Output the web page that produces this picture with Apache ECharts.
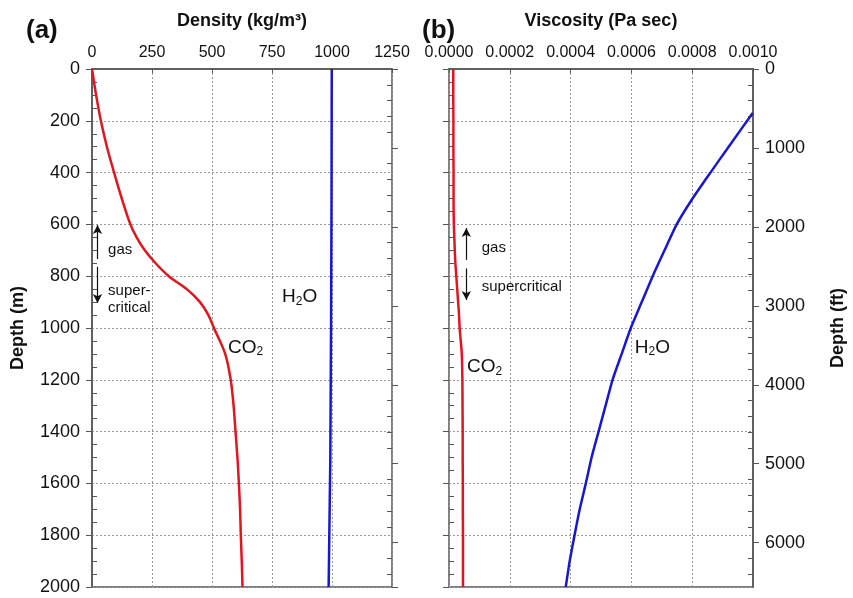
<!DOCTYPE html>
<html>
<head>
<meta charset="utf-8">
<script src="https://cdn.jsdelivr.net/npm/echarts@6/dist/echarts.min.js"></script>
<style>
html,body{margin:0;padding:0;background:#fff;}
#main{width:853px;height:598px;}
</style>
</head>
<body>
<div id="main"></div>
<script>
// depth (m) for the CO2 curves
var depthCO2 = [0,100,200,300,400,500,600,650,700,750,800,850,900,950,1000,1100,1200,1300,1400,1500,1600,1700,1800,1900,2000];
var co2Density = [0,17,37,62,92,124,160,186,220,265,320,395,450,485,508,555,578,590,598,606,612,617,620,624,627];
var co2Viscosity = [1.4e-5,1.4e-5,1.45e-5,1.45e-5,1.5e-5,1.5e-5,1.6e-5,1.75e-5,1.9e-5,2.1e-5,2.4e-5,2.7e-5,3.0e-5,3.3e-5,3.5e-5,4.2e-5,4.4e-5,4.45e-5,4.5e-5,4.5e-5,4.55e-5,4.55e-5,4.6e-5,4.6e-5,4.6e-5];

var depthH2ODensity = [0,500,1000,1500,2000];
var h2oDensity = [999,998,996,993,986];

var depthH2OVisc = [170,300,400,506,600,700,800,900,1000,1100,1200,1300,1400,1500,1600,1700,1800,1900,2000];
var h2oViscosity = [0.000999,0.00092,0.00086,0.000798,0.000749,0.000709,0.00067,0.000634,0.000598,0.000568,0.000538,0.000515,0.000492,0.000469,0.00045,0.00043,0.000413,0.000397,0.000384];

var M_TO_FT = 3.28084;
var depthMax = 2000;

function pairs(xs,ys){
	var out=[];
	for(var i=0;i<xs.length;i++){ out.push([xs[i],ys[i]]); }
	return out;
}

var FONT = 'Liberation Sans, Arial, sans-serif';
var axisColor = '#555';
var gridLine = {show:true,lineStyle:{type:[2,2],color:'#999',width:1}};
var plain = function(v){ return String(v); };

function depthAxis(gridIndex,opts){
	var base = {
		type:'value', gridIndex:gridIndex, inverse:true, min:0, max:depthMax, interval:200,
		axisLine:{show:false}, axisLabel:{show:false}, splitLine:{show:false},
		axisTick:{show:false}, minorTick:{show:false}
	};
	for(var k in opts){ base[k]=opts[k]; }
	return base;
}
function ftAxis(gridIndex,opts){
	var base = {
		type:'value', gridIndex:gridIndex, inverse:true, min:0, max:depthMax*M_TO_FT, interval:1000,
		position:'right',
		axisLine:{show:false}, axisLabel:{show:false}, splitLine:{show:false},
		axisTick:{show:false}, minorTick:{show:false}
	};
	for(var k in opts){ base[k]=opts[k]; }
	return base;
}

var rich = {
	base:{fontFamily:FONT,fontSize:19,color:'#111'},
	sub:{fontFamily:FONT,fontSize:12,color:'#111',verticalAlign:'bottom',padding:[9,0,0,0]}
};
var hidden = {color:'rgba(0,0,0,0)'};
function note(coord,text,pos){
	return {coord:coord,symbol:'circle',symbolSize:1,itemStyle:hidden,
		label:{show:true,position:pos||'right',distance:0,formatter:text,fontFamily:FONT,fontSize:15,lineHeight:17,color:'#111'}};
}
function chem(coord,text){
	return {coord:coord,symbol:'circle',symbolSize:1,itemStyle:hidden,
		label:{show:true,position:'inside',formatter:text,rich:rich}};
}
var arrowLine = {silent:true,symbol:['none','arrow'],symbolSize:[7,9],label:{show:false},
	lineStyle:{color:'#111',width:1.2,type:'solid'}};

var option = {
	animation:false,
	backgroundColor:'#fff',
	title:[
		{text:'(a)',left:21,top:13,textStyle:{fontFamily:FONT,fontSize:26,fontWeight:'bold',color:'#111'}},
		{text:'(b)',left:417,top:13,textStyle:{fontFamily:FONT,fontSize:26,fontWeight:'bold',color:'#111'}}
	],
	grid:[
		{left:92,top:69,width:300,height:518,show:true,borderColor:axisColor,borderWidth:1.5},
		{left:449,top:69,width:304,height:518,show:true,borderColor:axisColor,borderWidth:1.5}
	],
	xAxis:[
		{type:'value',gridIndex:0,position:'top',min:0,max:1250,interval:250,
			name:'Density (kg/m³)',nameLocation:'middle',nameGap:39,
			nameTextStyle:{fontFamily:FONT,fontSize:18,fontWeight:'bold',color:'#111'},
			axisLine:{show:true,lineStyle:{color:axisColor,width:1.5}},
			axisTick:{show:true,inside:true,length:4,lineStyle:{color:axisColor}},
			axisLabel:{fontFamily:FONT,fontSize:16,color:'#111',margin:8,formatter:plain},
			splitLine:gridLine},
		{type:'value',gridIndex:1,position:'top',min:0,max:0.001,interval:0.0002,
			name:'Viscosity (Pa sec)',nameLocation:'middle',nameGap:39,
			nameTextStyle:{fontFamily:FONT,fontSize:18,fontWeight:'bold',color:'#111'},
			axisLine:{show:true,lineStyle:{color:axisColor,width:1.5}},
			axisTick:{show:true,inside:true,length:4,lineStyle:{color:axisColor}},
			axisLabel:{fontFamily:FONT,fontSize:16,color:'#111',margin:8,formatter:function(v){return v.toFixed(4);}},
			splitLine:gridLine}
	],
	yAxis:[
		// panel (a) left: labelled metres
		depthAxis(0,{position:'left',
			name:'Depth (m)',nameLocation:'middle',nameGap:65,nameRotate:90,
			nameTextStyle:{fontFamily:FONT,fontSize:18,fontWeight:'bold',color:'#111'},
			axisLine:{show:true,lineStyle:{color:axisColor,width:1.5}},
			axisTick:{show:true,length:6,lineStyle:{color:axisColor}},
			axisLabel:{show:true,fontFamily:FONT,fontSize:18,color:'#111',margin:12,formatter:plain},
			splitLine:gridLine}),
		depthAxis(0,{position:'left',minorTick:{show:true,splitNumber:4,length:5,lineStyle:{color:axisColor}},
			axisTick:{show:false,inside:true}}),
		ftAxis(0,{axisTick:{show:true,length:6,lineStyle:{color:axisColor}}}),
		ftAxis(0,{minorTick:{show:true,splitNumber:5,length:5,lineStyle:{color:axisColor}},axisTick:{show:false,inside:true}}),
		// panel (b)
		depthAxis(1,{position:'left',
			axisTick:{show:true,length:6,lineStyle:{color:axisColor}},
			splitLine:gridLine}),
		depthAxis(1,{position:'left',minorTick:{show:true,splitNumber:4,length:5,lineStyle:{color:axisColor}},
			axisTick:{show:false,inside:true}}),
		ftAxis(1,{
			name:'Depth (ft)',nameLocation:'middle',nameGap:76,nameRotate:90,
			nameTextStyle:{fontFamily:FONT,fontSize:18,fontWeight:'bold',color:'#111'},
			axisLine:{show:true,lineStyle:{color:axisColor,width:1.5}},
			axisTick:{show:true,length:6,lineStyle:{color:axisColor}},
			axisLabel:{show:true,fontFamily:FONT,fontSize:18,color:'#111',margin:12,showMaxLabel:false,formatter:plain}}),
		ftAxis(1,{minorTick:{show:true,splitNumber:5,length:5,lineStyle:{color:axisColor}},axisTick:{show:false,inside:true}})
	],
	series:[
		{type:'line',name:'CO2 density',xAxisIndex:0,yAxisIndex:0,data:pairs(co2Density,depthCO2),
			showSymbol:false,smooth:0.3,lineStyle:{color:'#e3141b',width:2.5},
			markPoint:{silent:true,data:[
				chem([640,1075],'{base|CO}{sub|2}'),
				note([65,699],'gas'),
				note([65,888],'super-\ncritical')
			]},
			markLine:Object.assign({data:[
				[{coord:[23,734]},{coord:[23,602]}],
				[{coord:[23,764]},{coord:[23,903]}]
			]},arrowLine)
		},
		{type:'line',name:'H2O density',xAxisIndex:0,yAxisIndex:0,data:pairs(h2oDensity,depthH2ODensity),
			showSymbol:false,lineStyle:{color:'#1616d8',width:2.5},
			markPoint:{silent:true,data:[
				chem([865,880],'{base|H}{sub|2}{base|O}')
			]}
		},
		{type:'line',name:'CO2 viscosity',xAxisIndex:1,yAxisIndex:4,data:pairs(co2Viscosity,depthCO2),
			showSymbol:false,smooth:0.3,lineStyle:{color:'#e3141b',width:2.5},
			markPoint:{silent:true,data:[
				chem([0.000117,1150],'{base|CO}{sub|2}'),
				note([0.000106,691],'gas'),
				note([0.000106,842],'supercritical')
			]},
			markLine:Object.assign({data:[
				[{coord:[0.000057,737]},{coord:[0.000057,614]}],
				[{coord:[0.000057,770]},{coord:[0.000057,892]}]
			]},arrowLine)
		},
		{type:'line',name:'H2O viscosity',xAxisIndex:1,yAxisIndex:4,data:pairs(h2oViscosity,depthH2OVisc),
			showSymbol:false,smooth:0.2,lineStyle:{color:'#1616d8',width:2.5},
			markPoint:{silent:true,data:[
				chem([0.000669,1075],'{base|H}{sub|2}{base|O}')
			]}
		}
	]
};

var myChart = echarts.init(document.getElementById('main'));
myChart.setOption(option);
</script>
</body>
</html>
